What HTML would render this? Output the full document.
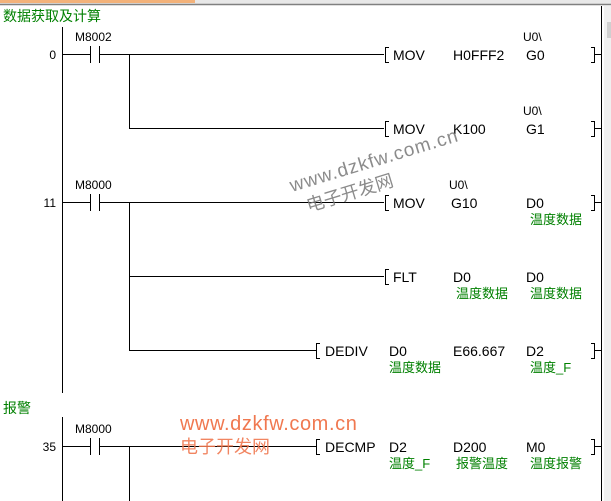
<!DOCTYPE html>
<html><head><meta charset="utf-8"><style>
html,body{margin:0;padding:0;background:#fff;width:611px;height:501px;overflow:hidden}
svg{display:block}
text{font-family:"Liberation Sans","Noto Sans CJK SC",sans-serif}
.t{font-size:14px;fill:#000}
.s{font-size:12px;fill:#000}
.c{font-size:13px;fill:#008000}
</style></head><body>
<svg width="611" height="501" viewBox="0 0 611 501">
<rect x="0" y="0" width="611" height="4" fill="#e8e8e8"/>
<rect x="0" y="0" width="195" height="3" fill="#f3b27a"/>
<line x1="0" y1="4.5" x2="611" y2="4.5" stroke="#808080" stroke-width="1.5"/>
<rect x="604" y="6" width="7" height="495" fill="#f0f0f0"/>
<rect x="607" y="22" width="4" height="16" fill="#cfcfcf"/>
<g stroke="#000" stroke-width="1" fill="none" shape-rendering="crispEdges">
<line x1="601.5" y1="6" x2="601.5" y2="501"/>
<line x1="62.5" y1="27" x2="62.5" y2="393"/>
<line x1="62.5" y1="417" x2="62.5" y2="501"/>
<path d="M62 54.5H90M99 54.5H384M90.5 46V63M99.5 46V63M129.5 54V128.5H384"/>
<path d="M62 202.5H90M99 202.5H384M90.5 194V211M99.5 194V211M129.5 202V350.5H316M129.5 276.5H384"/>
<path d="M62 446.5H90M99 446.5H316M90.5 438V455M99.5 438V455M129.5 446V501"/>
<path d="M389 47.5H385.5V62.5H389M591 47.5H594.5V62.5H591M594 54.5H601"/>
<path d="M389 121.5H385.5V136.5H389M591 121.5H594.5V136.5H591M594 128.5H601"/>
<path d="M389 195.5H385.5V210.5H389M591 195.5H594.5V210.5H591M594 202.5H601"/>
<path d="M389 269.5H385.5V284.5H389"/>
<path d="M320 343.5H316.5V358.5H320M591 343.5H594.5V358.5H591M594 350.5H601"/>
<path d="M320 439.5H316.5V454.5H320M591 439.5H594.5V454.5H591M594 446.5H601"/>
</g>
<text x="3" y="21" class="c" style="font-size:14px">数据获取及计算</text>
<text x="3" y="413" class="c" style="font-size:14px">报警</text>
<text x="56" y="59" class="s" text-anchor="end">0</text>
<text x="56" y="207" class="s" text-anchor="end">11</text>
<text x="56" y="451" class="s" text-anchor="end">35</text>
<text x="75" y="41" class="s">M8002</text>
<text x="75" y="189" class="s">M8000</text>
<text x="75" y="433" class="s">M8000</text>
<text x="393" y="60" class="t">MOV</text><text x="453" y="60" class="t">H0FFF2</text><text x="523" y="41" class="s">U0\</text><text x="526" y="60" class="t">G0</text>
<text x="393" y="134" class="t">MOV</text><text x="453" y="134" class="t">K100</text><text x="523" y="115" class="s">U0\</text><text x="526" y="134" class="t">G1</text>
<text x="393" y="208" class="t">MOV</text><text x="449" y="189" class="s">U0\</text><text x="451" y="208" class="t">G10</text><text x="526" y="208" class="t">D0</text>
<text x="530" y="224" class="c">温度数据</text>
<text x="393" y="282" class="t">FLT</text><text x="453" y="282" class="t">D0</text><text x="526" y="282" class="t">D0</text>
<text x="456" y="298" class="c">温度数据</text><text x="530" y="298" class="c">温度数据</text>
<text x="325" y="356" class="t">DEDIV</text><text x="389" y="356" class="t">D0</text><text x="453" y="356" class="t">E66.667</text><text x="526" y="356" class="t">D2</text>
<text x="389" y="372" class="c">温度数据</text><text x="530" y="372" class="c">温度_F</text>
<text x="325" y="452" class="t">DECMP</text><text x="389" y="452" class="t">D2</text><text x="453" y="452" class="t">D200</text><text x="526" y="452" class="t">M0</text>
<text x="389" y="468" class="c">温度_F</text><text x="456" y="468" class="c">报警温度</text><text x="530" y="468" class="c">温度报警</text>
<g transform="rotate(-17 292 192)" fill="#777" opacity="0.85">
<text x="292" y="192" style="font-size:19px;letter-spacing:1px">www.dzkfw.com.cn</text>
<text x="302" y="216" style="font-size:18px">电子开发网</text>
</g>
<text x="180" y="430" style="font-size:20px;letter-spacing:0.6px;fill:#f07850">www.dzkfw.com.cn</text>
<text x="180" y="453" style="font-size:18px;fill:#f07850" opacity="0.9">电子开发网</text>
</svg>
</body></html>
